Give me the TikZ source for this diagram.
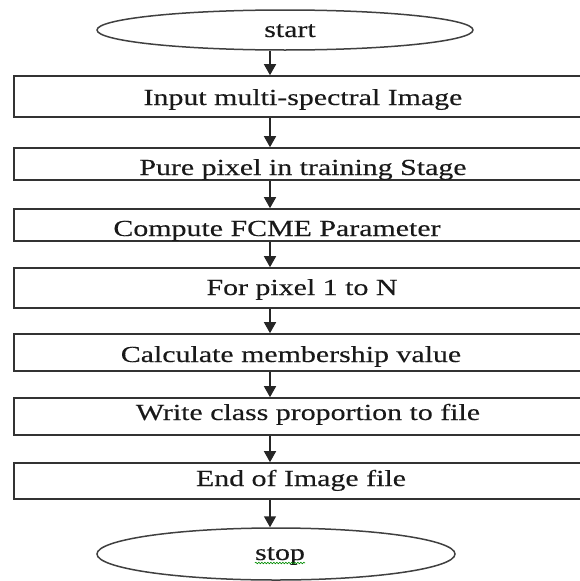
\documentclass[tikz,border=0pt]{standalone}
\usepackage{fontspec}
\setmainfont[FakeStretch=1.3, FakeBold=0.3]{Liberation Serif}
\usetikzlibrary{arrows.meta,shapes.geometric,decorations.pathmorphing}

\begin{document}
\begin{tikzpicture}[x=1pt, y=-1pt,
		stepbox/.style={draw=black!80, line width=1.6pt, minimum width=590pt, inner sep=0pt},
		endbox/.style={draw=black!75, line width=1.5pt, ellipse, inner sep=0pt},
		lbl/.style={anchor=base, inner sep=0pt, text=black!90, font=\fontsize{23}{26}\selectfont},
		flow/.style={draw=black!85, line width=1.5pt, -{Triangle[length=11pt, width=12pt]}}]
		%%%%% START %%%%%
		\useasboundingbox (0, 0) rectangle (579, 581);
		\coordinate (ax) at (270, 0);
		
		\node[endbox, minimum width=376pt, minimum height=40pt] (start) at (285, 30) {};
		\node[lbl] (t0) at (290, 37) {start};
		
		\node[stepbox, minimum height=41pt] (b1) at (309, 96.5) {};
		\node[lbl] (t1) at (303, 105) {Input multi-spectral Image};
		
		\node[stepbox, minimum height=32pt] (b2) at (309, 164) {};
		\node[lbl] (t2) at (303, 175) {Pure pixel in training Stage};
		
		\node[stepbox, minimum height=32pt] (b3) at (309, 225) {};
		\node[lbl] (t3) at (277, 236) {Compute FCME Parameter};
		
		\node[stepbox, minimum height=40pt] (b4) at (309, 288) {};
		\node[lbl] (t4) at (302, 295) {For pixel 1 to N};
		
		\node[stepbox, minimum height=37pt] (b5) at (309, 352.5) {};
		\node[lbl] (t5) at (291, 362) {Calculate membership value};
		
		\node[stepbox, minimum height=37pt] (b6) at (309, 416.5) {};
		\node[lbl] (t6) at (308, 420) {Write class proportion to file};
		
		\node[stepbox, minimum height=36pt] (b7) at (309, 481) {};
		\node[lbl] (t7) at (301, 486) {End of Image file};
		
		\node[endbox, minimum width=358pt, minimum height=52pt] (stop) at (276, 554) {};
		\node[lbl] (t8) at (280, 560) {stop};
		\draw[green!55!black, line width=0.6pt, decorate, decoration={snake, amplitude=0.8pt, segment length=3pt}] ([yshift=-3pt]t8.base west) -- ([yshift=-3pt]t8.base east);
		
		% arrows down the middle
		\foreach \a/\b in {start/b1, b1/b2, b2/b3, b3/b4, b4/b5, b5/b6, b6/b7, b7/stop}
			\draw[flow] (\a.south -| ax) -- (\b.north -| ax);
		%%%%% END %%%%%
	\end{tikzpicture}
\end{document}
